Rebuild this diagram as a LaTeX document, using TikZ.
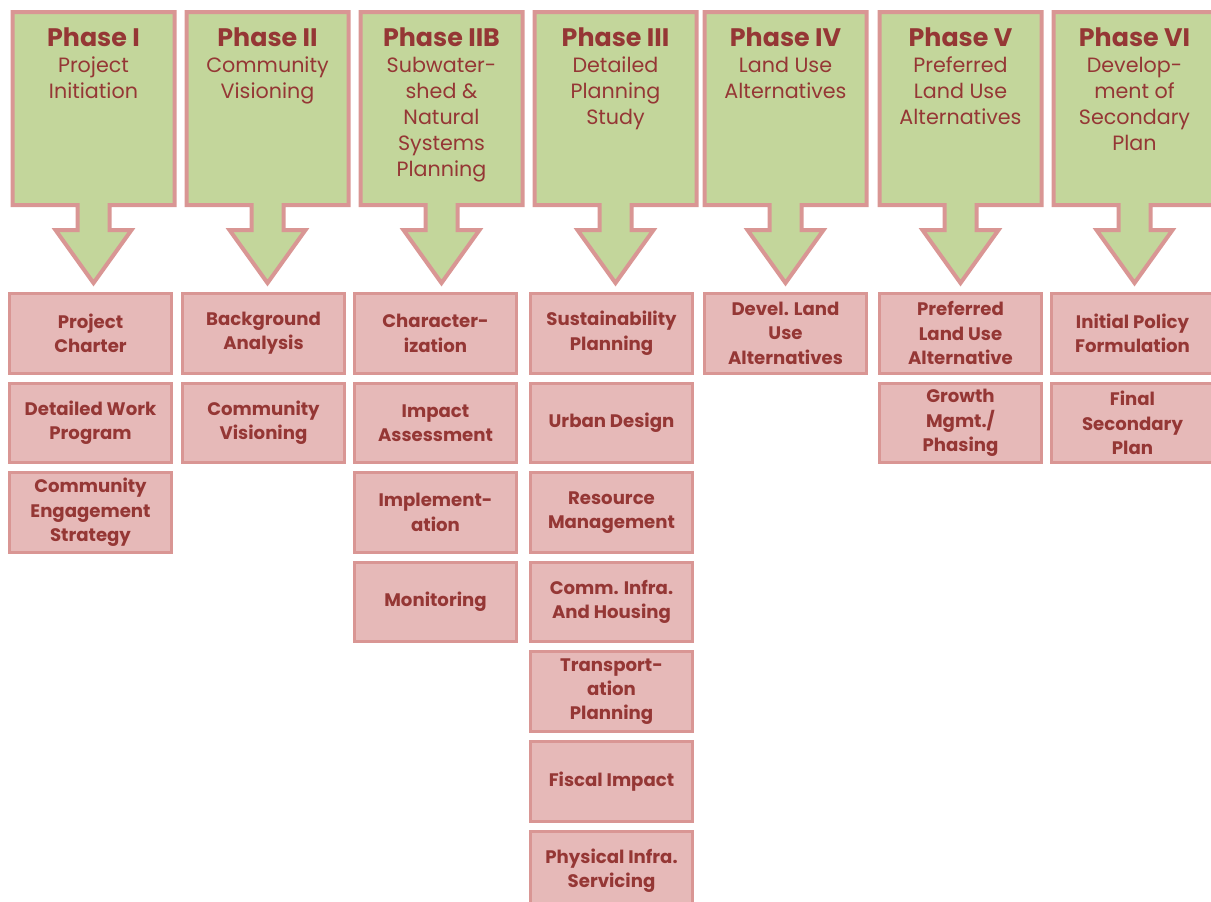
\documentclass[tikz,border=0pt]{standalone}
\usepackage{fontspec}
\setmainfont{Poppins}
\usepackage{xcolor}
\usetikzlibrary{positioning}
\definecolor{leafgreen}{HTML}{C3D69B}
\definecolor{rosefill}{HTML}{E6B9B8}
\definecolor{roseline}{HTML}{D99694}
\definecolor{wine}{HTML}{953735}
\newcommand{\phasetitle}[1]{{\bfseries\fontsize{19}{22}\selectfont #1}}
\newcommand{\phasebox}[3]{%
  \draw[callout] (#1,12) -- (#1+162,12) -- (#1+162,205) -- (#1+97,205) -- (#1+97,230)
    -- (#1+119,230) -- (#1+81,283) -- (#1+43,230) -- (#1+65,230) -- (#1+65,205) -- (#1,205) -- cycle;
  \node [phase, anchor=north] (#2) at (#1+81,27) {#3};}

\begin{document}
\begin{tikzpicture}[x=0.75pt, y=-0.75pt, node distance=5.25pt,
    callout/.style={draw=roseline, fill=leafgreen, line width=3pt, line join=miter},
    phase/.style={inner sep=0pt, align=center, text=wine, font=\fontsize{15.5}{19.5}\selectfont},
    task/.style={rectangle, draw=roseline, fill=rosefill, line width=2.25pt, text=wine,
      minimum width=121.5pt, minimum height=59.7pt, inner sep=2pt, align=center,
      font=\bfseries\fontsize{13.6}{18.3}\selectfont}]

    \useasboundingbox (0,0) rectangle (1211,901);
    \clip (0,0) rectangle (1211,901);

    % phase callouts
    \phasebox{12.5}{p1}{\phasetitle{Phase I}\\Project\\Initiation}
    \phasebox{186.5}{p2}{\phasetitle{Phase II}\\Community\\Visioning}
    \phasebox{360.5}{p2b}{\phasetitle{Phase IIB}\\Subwater-\\shed \&\\Natural\\Systems\\Planning}
    \phasebox{534.5}{p3}{\phasetitle{Phase III}\\Detailed\\Planning\\Study}
    \phasebox{704.5}{p4}{\phasetitle{Phase IV}\\Land Use\\Alternatives}
    \phasebox{879.5}{p5}{\phasetitle{Phase V}\\Preferred\\Land Use\\Alternatives}
    \phasebox{1053.5}{p6}{\phasetitle{Phase VI}\\Develop-\\ment of\\Secondary\\Plan}

    % phase I
    \node [task, anchor=north west] (charter) at (8,292) {Project\\Charter};
    \node [task, below=of charter] (workprog) {Detailed Work\\Program};
    \node [task, below=of workprog] (engage) {Community\\Engagement\\Strategy};

    % phase II
    \node [task, anchor=north west] (backgr) at (181,292) {Background\\Analysis};
    \node [task, below=of backgr] (vision) {Community\\Visioning};

    % phase IIB
    \node [task, anchor=north west] (charact) at (353,292) {Character-\\ization};
    \node [task, below=of charact] (impact) {Impact\\Assessment};
    \node [task, below=of impact] (implem) {Implement-\\ation};
    \node [task, below=of implem] (monitor) {Monitoring};

    % phase III
    \node [task, anchor=north west] (sustain) at (529,292) {Sustainability\\Planning};
    \node [task, below=of sustain] (urban) {Urban Design};
    \node [task, below=of urban] (resource) {Resource\\Management};
    \node [task, below=of resource] (comminfra) {Comm. Infra.\\And Housing};
    \node [task, below=of comminfra] (transport) {Transport-\\ation\\Planning};
    \node [task, below=of transport] (fiscal) {Fiscal Impact};
    \node [task, below=of fiscal] (physinfra) {Physical Infra.\\Servicing};

    % phase IV
    \node [task, anchor=north west] (develalt) at (703,292) {Devel. Land\\Use\\Alternatives};

    % phase V
    \node [task, anchor=north west] (prefalt) at (878,292) {Preferred\\Land Use\\Alternative};
    \node [task, below=of prefalt] (growth) {Growth\\Mgmt./\\Phasing};

    % phase VI
    \node [task, anchor=north west] (policy) at (1050,292) {Initial Policy\\Formulation};
    \node [task, below=of policy] (finalplan) {Final\\Secondary\\Plan};
\end{tikzpicture}
\end{document}
